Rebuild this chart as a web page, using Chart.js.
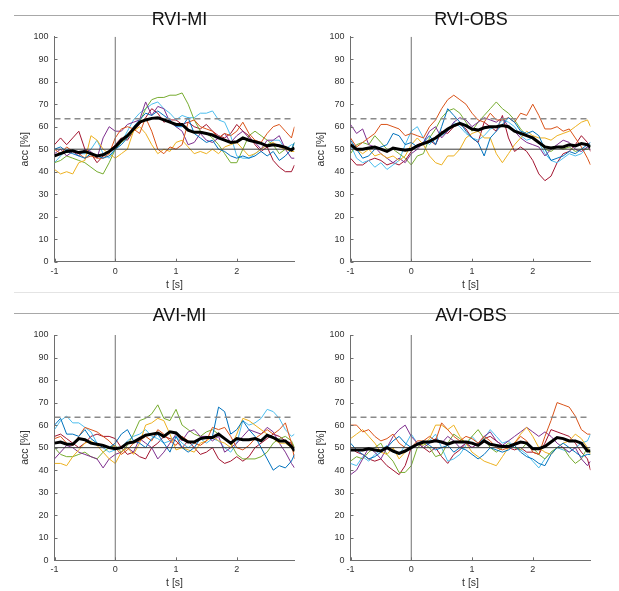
<!DOCTYPE html>
<html>
<head>
<meta charset="utf-8">
<script src="https://cdn.jsdelivr.net/npm/chart.js@4.4.1/dist/chart.umd.min.js"></script>
<style>
  html, body { margin: 0; padding: 0; background: #fff; }
  body { width: 619px; height: 591px; position: relative; overflow: hidden; }
  .rule { position: absolute; left: 14px; width: 605px; height: 1px; }
  canvas { position: absolute; }
</style>
</head>
<body>
<div class="rule" style="top:15px;background:#a8a8a8"></div>
<div class="rule" style="top:292px;background:#e4e4e4"></div>
<div class="rule" style="top:313px;background:#a8a8a8"></div>
<canvas id="rviMi" width="300" height="292" style="left:4px;top:0px"></canvas>
<canvas id="rviObs" width="300" height="292" style="left:300px;top:0px"></canvas>
<canvas id="aviMi" width="300" height="293" style="left:4px;top:298px"></canvas>
<canvas id="aviObs" width="300" height="293" style="left:300px;top:298px"></canvas>
<script>
// time axis (s) and reference levels
const timeSec = [-1, -0.9, -0.8, -0.7, -0.6, -0.5, -0.4, -0.3, -0.2, -0.1, 0, 0.1, 0.2, 0.3, 0.4, 0.5, 0.6, 0.7, 0.8, 0.9,
  1, 1.1, 1.2, 1.3, 1.4, 1.5, 1.6, 1.7, 1.8, 1.9, 2, 2.1, 2.2, 2.3, 2.4, 2.5, 2.6, 2.7, 2.8, 2.9, 2.95];
const xRange = [-1, 2.95];
const xTicks = [-1, 0, 1, 2];
const yRange = [0, 100];
const chanceLevel = 50;
const significanceLevel = 63.5;
const cueOnset = 0;

// RVI-MI, subjects S1..S7 and grand mean (acc %)
const rviMiS1 = [50,51,49,48,47,46,48,47,46,47, 50,52,55,60,63,66,65,67,65,63, 60,60,64,57,55,53,54,50,49,47, 46,47,46,47,49,47,49,45,47,50, 53];
const rviMiS2 = [50,48,51,49,48,46,47,46,46,48, 55,59,60,59,57,64,58,50,48,51, 50,52,62,63,60,59,58,55,57,56, 58,62,57,54,53,57,60,61,58,55, 60];
const rviMiS3 = [41,39,40,39,44,45,56,54,50,48, 46,48,50,58,60,57,52,48,50,49, 53,54,51,48,49,48,50,48,51,52, 53,50,47,48,50,52,53,51,50,49, 49];
const rviMiS4 = [48,50,47,49,47,50,49,46,55,60, 58,58,61,62,63,71,65,69,68,62, 60,58,52,53,57,54,53,55,57,53, 56,58,55,53,50,54,54,56,50,46, 46];
const rviMiS5 = [44,45,47,46,45,44,42,40,39,44, 50,53,55,58,62,68,72,73,73,74, 74,75,70,63,58,57,55,52,48,44, 44,50,56,58,56,54,52,48,50,50, 53];
const rviMiS6 = [44,47,50,49,48,48,50,54,48,46, 50,53,58,63,66,68,70,71,68,66, 63,65,64,64,66,66,67,63,62,56, 47,46,46,48,50,52,54,54,50,52, 52];
const rviMiS7 = [52,55,52,55,58,50,48,44,47,49, 52,55,54,58,61,64,68,66,62,63, 63,61,62,60,59,61,58,56,55,57, 61,58,56,52,49,51,45,42,40,40, 43];
const rviMiMean = [47,48,49,49.3,48.5,49,48,47,47.5,49, 51,54,56,59,62,63,63.7,64,63,62, 61,61,58.5,57.5,57.5,57,56.3,55,54,53, 53.3,55,54,53.3,52.6,51.5,52,51.5,50.8,49.6, 50.7];

// RVI-OBS
const rviObsS1 = [54,50,46,47,50,51,52,57,56,52, 53,51,53,56,52,60,68,65,62,58, 55,53,47,55,58,61,64,62,58,57, 58,56,50,45,46,47,49,48,50,52, 53];
const rviObsS2 = [55,51,53,55,57,61,61,60,59,56, 57,56,55,60,63,68,72,74,72,70, 66,63,62,66,63,63,64,62,66,65, 70,65,59,59,60,58,59,55,51,46, 43];
const rviObsS3 = [52,50,48,50,47,48,46,47,45,47, 52,55,52,47,44,43,47,47,50,55, 57,58,55,55,48,44,48,52,55,58, 56,55,55,54,56,57,58,60,62,63, 60];
const rviObsS4 = [61,57,59,52,51,48,46,44,46,44, 48,50,53,58,60,55,58,62,64,63, 60,62,64,63,62,64,60,58,55,53, 52,51,47,50,52,54,53,50,49,51, 50];
const rviObsS5 = [48,52,53,52,56,53,50,50,48,46, 43,47,48,55,59,64,67,68,66,62, 58,62,65,68,71,68,66,63,59,56, 55,53,50,49,51,50,51,49,50,50, 51];
const rviObsS6 = [52,46,44,45,42,44,41,43,45,52, 58,60,55,52,55,56,58,62,60,57, 55,54,56,59,60,63,62,60,56,54, 55,53,48,45,44,46,48,47,48,51, 52];
const rviObsS7 = [46,43,43,45,46,45,43,44,43,45, 49,52,53,54,52,58,57,60,61,59, 55,53,62,60,58,65,55,49,51,49, 45,39,36,38,44,48,49,52,56,53, 49];
const rviObsMean = [52,50,50,50.5,51,50,49,50.5,50,49.5, 50,51.5,52.5,53.5,55,57,59,60.5,61.5,60.5, 59,58.5,59.5,60,60,60.5,60,58,57,56, 55,53,51,50.5,51,51,52,51.5,52.5,52, 51];

// AVI-MI
const aviMiS1 = [60,63,56,56,55,58,54,52,50,50, 52,56,58,53,52,50,54,56,52,48, 55,50,48,50,54,54,55,68,66,56, 58,62,58,55,50,45,40,42,41,44, 47];
const aviMiS2 = [54,55,52,51,55,59,58,57,55,53, 50,47,49,52,53,55,53,58,56,53, 51,55,53,52,51,53,59,58,59,55, 50,49,51,54,56,58,56,58,61,52, 45];
const aviMiS3 = [43,43,42,46,49,52,53,51,48,45, 43,48,50,47,52,60,61,63,62,56, 49,50,49,48,52,53,55,53,52,50, 56,63,62,60,58,56,54,52,52,50, 48];
const aviMiS4 = [45,48,51,50,48,47,46,45,41,45, 47,48,50,48,54,52,50,45,48,52, 56,53,57,58,55,55,53,55,48,50, 52,55,58,57,56,59,57,52,48,43, 41];
const aviMiS5 = [50,47,46,46,47,48,46,45,48,50, 51,48,51,56,62,63,65,69,63,62, 67,60,58,56,55,57,58,56,54,52, 47,45,45,45,46,48,52,54,55,53, 50];
const aviMiS6 = [58,62,64,61,61,59,57,52,50,48, 49,50,53,55,56,58,55,54,52,53, 55,52,50,52,54,52,54,53,50,48, 52,62,60,61,63,67,66,63,58,55, 56];
const aviMiS7 = [55,56,54,52,50,52,55,56,55,55, 54,50,47,48,46,45,50,52,55,54, 53,50,53,50,47,48,50,45,43,44, 46,44,46,50,52,54,56,55,53,52, 50];
const aviMiMean = [52,52.5,51.5,51.5,54,53.5,52,51.5,51,50, 49.5,50,52,52.5,54,55.5,56,56.5,55,57, 56.5,54,52.5,52.5,54,54.5,54.5,56,54,52, 54,53.5,53.5,54,53,55.5,54.5,53,53,50.5, 48.5];

// AVI-OBS
const aviObsS1 = [52,49,47,45,46,48,50,53,55,52, 50,52,53,51,49,50,51,48,50,49, 47,45,47,50,49,48,49,51,48,46, 45,43,42,47,50,52,50,48,46,47, 47];
const aviObsS2 = [60,60,57,58,55,53,54,56,52,50, 50,53,53,55,53,61,58,55,53,55, 54,52,55,53,50,49,50,52,55,53, 48,47,55,62,70,69,68,64,58,56, 56];
const aviObsS3 = [54,56,58,55,52,48,47,50,45,48, 50,52,51,54,60,60,58,60,55,52, 48,46,44,43,42,46,50,52,56,59, 55,50,48,47,50,52,53,56,54,50, 47];
const aviObsS4 = [38,40,45,50,48,45,50,55,58,60, 55,52,50,52,54,52,55,53,50,52, 50,52,55,57,53,51,53,55,57,59, 57,55,57,55,52,50,48,50,45,42, 44];
const aviObsS5 = [44,46,45,48,50,52,47,44,39,39, 42,50,52,50,46,47,52,56,54,52, 55,58,54,50,48,50,52,50,49,52, 50,47,45,48,50,50,46,43,45,50, 48];
const aviObsS6 = [43,42,46,44,47,49,51,48,47,51, 56,52,51,53,56,50,44,45,47,51, 55,52,54,58,55,52,53,50,49,47, 44,41,45,48,50,49,48,50,52,53, 56];
const aviObsS7 = [50,48,47,45,44,45,42,40,38,42, 50,52,50,48,50,46,43,47,49,52, 50,52,54,55,53,51,50,49,50,48, 48,47,52,58,57,56,55,52,48,45, 40];
const aviObsMean = [49,49,49,49.5,49,48.5,50,48.5,47.5,48.5, 50,51.5,52.5,52.5,53,52.5,51.5,52.5,52.5,52.5, 52,51,53,51.5,51,50.5,50.5,51.5,52.5,52, 49.5,49.5,50.5,52.5,54.5,54,53,53,52,48.5, 48.5];

const FONT = "'Liberation Sans', Arial, sans-serif";
const TEXT = "#333";
const AXIS = "#6e6e6e";
const subjectColors = ["#0072BD", "#D95319", "#EDB120", "#7E2F8E", "#77AC30", "#4DBEEE", "#A2142F"];

Chart.defaults.font.family = FONT;

// matlab style ticks pointing into the axes
const inwardTicks = {
  id: "inwardTicks",
  afterDatasetsDraw(chart) {
    const { ctx, chartArea, scales } = chart;
    ctx.save();
    ctx.strokeStyle = AXIS;
    ctx.lineWidth = 1;
    ctx.beginPath();
    scales.x.ticks.forEach((t) => {
      const px = Math.round(scales.x.getPixelForValue(t.value)) + 0.5;
      ctx.moveTo(px, chartArea.bottom);
      ctx.lineTo(px, chartArea.bottom - 3);
    });
    scales.y.ticks.forEach((t) => {
      const py = Math.round(scales.y.getPixelForValue(t.value)) + 0.5;
      ctx.moveTo(chartArea.left, py);
      ctx.lineTo(chartArea.left + 3, py);
    });
    ctx.stroke();
    ctx.restore();
  },
};

// panel title, centred over the plot area (a bit off for the left column, like the figure)
const panelTitle = {
  id: "panelTitle",
  afterDraw(chart, args, opts) {
    const { ctx, chartArea } = chart;
    ctx.save();
    ctx.font = `18px ${FONT}`;
    ctx.fillStyle = "#111";
    ctx.textAlign = "center";
    ctx.textBaseline = "alphabetic";
    ctx.fillText(opts.text, (chartArea.left + chartArea.right) / 2 + opts.dx, opts.baseline);
    ctx.restore();
  },
};

const toPoints = (values) => values.map((v, i) => ({ x: timeSec[i], y: v }));

function drawPanel(id, title, subjects, mean, geom) {
  const datasets = [
    { data: toPoints(mean), borderColor: "#000", borderWidth: 3 },
    {
      data: [{ x: xRange[0], y: significanceLevel }, { x: xRange[1], y: significanceLevel }],
      borderColor: "#8a8a8a", borderWidth: 1.5, borderDash: [6, 4],
    },
    {
      data: [{ x: xRange[0], y: chanceLevel }, { x: xRange[1], y: chanceLevel }],
      borderColor: "#3c3c3c", borderWidth: 1,
    },
    {
      data: [{ x: cueOnset, y: yRange[0] }, { x: cueOnset, y: yRange[1] }],
      borderColor: "#707070", borderWidth: 1,
    },
    ...subjects.map((s, i) => ({ data: toPoints(s), borderColor: subjectColors[i], borderWidth: 1 })),
  ];

  new Chart(document.getElementById(id), {
    type: "line",
    data: { datasets },
    options: {
      responsive: false,
      animation: false,
      layout: { padding: { left: 0, right: 9.5, top: geom.plotTop, bottom: 0 } },
      elements: { point: { radius: 0 }, line: { tension: 0 } },
      plugins: {
        legend: { display: false },
        tooltip: { enabled: false },
        title: { display: false },
        panelTitle: { text: title, dx: geom.titleDx, baseline: geom.titleBaseline },
      },
      scales: {
        x: {
          type: "linear",
          min: xRange[0],
          max: xRange[1],
          afterBuildTicks: (s) => { s.ticks = xTicks.map((v) => ({ value: v })); },
          afterFit: (s) => { s.height = geom.xAxisHeight; },
          grid: { display: false, drawTicks: false },
          border: { display: true, color: AXIS, width: 1 },
          ticks: { color: TEXT, font: { size: 9 }, padding: 4, maxRotation: 0 },
          title: {
            display: true, text: "t [s]", color: TEXT,
            font: { size: 10.5 }, padding: { top: 0, bottom: geom.xTitlePad },
          },
        },
        y: {
          min: yRange[0],
          max: yRange[1],
          afterFit: (s) => { s.width = 50.5; },
          grid: { display: false, drawTicks: false },
          border: { display: true, color: AXIS, width: 1 },
          ticks: { stepSize: 10, color: TEXT, font: { size: 9 }, padding: 6 },
          title: {
            display: true, text: "acc [%]", color: TEXT,
            font: { size: 10.5 }, padding: { top: 15.2, bottom: 0 },
          },
        },
      },
    },
    plugins: [inwardTicks, panelTitle],
  });
}

const geomTL = { plotTop: 36.7, titleBaseline: 25, titleDx: 5, xAxisHeight: 30.3, xTitlePad: 0.2 };
const geomTR = { plotTop: 36.7, titleBaseline: 25, titleDx: 0.5, xAxisHeight: 30.3, xTitlePad: 0.2 };
const geomBL = { plotTop: 37, titleBaseline: 23, titleDx: 5, xAxisHeight: 30.7, xTitlePad: 1.7 };
const geomBR = { plotTop: 37, titleBaseline: 23, titleDx: 0.5, xAxisHeight: 30.7, xTitlePad: 1.7 };

drawPanel("rviMi", "RVI-MI", [rviMiS1, rviMiS2, rviMiS3, rviMiS4, rviMiS5, rviMiS6, rviMiS7], rviMiMean, geomTL);
drawPanel("rviObs", "RVI-OBS", [rviObsS1, rviObsS2, rviObsS3, rviObsS4, rviObsS5, rviObsS6, rviObsS7], rviObsMean, geomTR);
drawPanel("aviMi", "AVI-MI", [aviMiS1, aviMiS2, aviMiS3, aviMiS4, aviMiS5, aviMiS6, aviMiS7], aviMiMean, geomBL);
drawPanel("aviObs", "AVI-OBS", [aviObsS1, aviObsS2, aviObsS3, aviObsS4, aviObsS5, aviObsS6, aviObsS7], aviObsMean, geomBR);
</script>
</body>
</html>
